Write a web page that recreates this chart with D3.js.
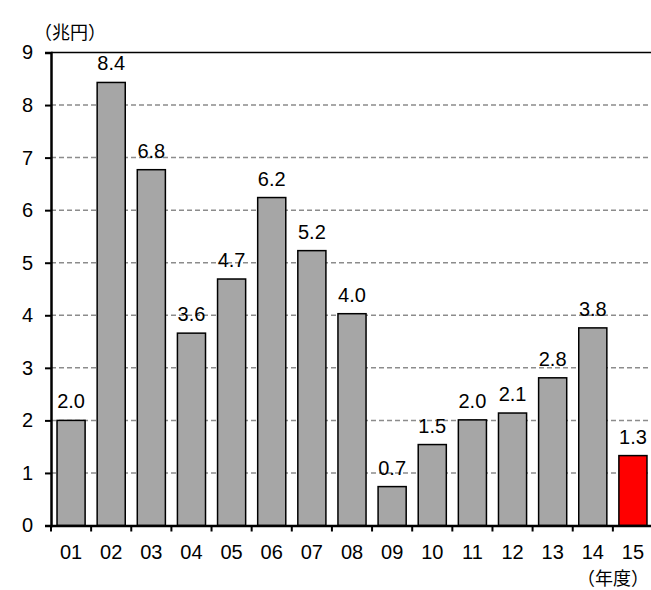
<!DOCTYPE html>
<html><head><meta charset="utf-8">
<script src="https://cdn.jsdelivr.net/npm/d3@7"></script>
<style>body{margin:0;background:#fff}svg{display:block;font-family:"Liberation Sans",Arial,sans-serif}</style>
</head><body>
<script>
const categories = ["01","02","03","04","05","06","07","08","09","10","11","12","13","14","15"];
const values = [2.0, 8.43, 6.77, 3.66, 4.69, 6.24, 5.23, 4.03, 0.74, 1.54, 2.01, 2.14, 2.81, 3.76, 1.33];
const labels = ["2.0","8.4","6.8","3.6","4.7","6.2","5.2","4.0","0.7","1.5","2.0","2.1","2.8","3.8","1.3"];
const yTicks = [0,1,2,3,4,5,6,7,8,9];
const highlight = "15";

const W = 651, H = 590;
const m = {left:51, top:52.5, right:-2, bottom:64.5};
const svg = d3.select("body").append("svg").attr("width",W).attr("height",H);
const x = d3.scaleBand().domain(categories).range([m.left, W - m.right]).paddingInner(0.3).paddingOuter(0.15);
const y = d3.scaleLinear().domain([0,9]).range([H - m.bottom, m.top]);
const FONT = "'Liberation Sans',Arial,sans-serif";
const CJK = "'Noto Sans CJK JP',sans-serif";

// grid
svg.append("g").selectAll("line").data(yTicks.filter(d=>d>0 && d<9)).join("line")
  .attr("x1", m.left).attr("x2", W).attr("y1", d=>y(d)).attr("y2", d=>y(d))
  .attr("stroke","#8c8c8c").attr("stroke-width",1.5).attr("stroke-dasharray","5,3");
// top border
svg.append("line").attr("x1", m.left).attr("x2", W).attr("y1", y(9)).attr("y2", y(9))
  .attr("stroke","#000").attr("stroke-width",1.5);

// bars
svg.append("g").selectAll("rect").data(categories).join("rect")
  .attr("x", d=>x(d)).attr("width", x.bandwidth())
  .attr("y", (d,i)=>y(values[i])).attr("height", (d,i)=>y(0)-y(values[i]))
  .attr("fill", d=> d===highlight ? "#ff0000" : "#a6a6a6")
  .attr("stroke","#000").attr("stroke-width",1.5);

// value labels
svg.append("g").selectAll("text").data(categories).join("text")
  .attr("x", d=>x(d)+x.bandwidth()/2).attr("y", (d,i)=>y(values[i]) - 12)
  .attr("text-anchor","middle").attr("font-size",20).text((d,i)=>labels[i]);

// y axis
const ya = svg.append("g").attr("transform",`translate(${m.left},0)`)
  .call(d3.axisLeft(y).tickValues(yTicks).tickSize(6).tickPadding(12).tickFormat(d3.format("d")));
ya.select(".domain").attr("stroke","#000").attr("stroke-width",2.5);
ya.selectAll(".tick line").attr("stroke","#000").attr("stroke-width",2);
ya.selectAll("text").attr("font-size",20).attr("fill","#000").style("font-family",FONT);

// x axis
const xa = svg.append("g").attr("transform",`translate(0,${y(0)})`)
  .call(d3.axisBottom(x).tickSize(0));
xa.select(".domain").attr("stroke","#000").attr("stroke-width",2.5);
xa.selectAll("text").attr("y",33.5).attr("dy",null).attr("font-size",20).attr("fill","#000").style("font-family",FONT);
// tick marks at band boundaries
const bounds = categories.map((d,i)=> m.left + i*(W - m.right - m.left)/categories.length);
svg.append("g").selectAll("line").data(bounds).join("line")
  .attr("x1", d=>d).attr("x2", d=>d).attr("y1", y(0)).attr("y2", y(0)+6)
  .attr("stroke","#000").attr("stroke-width",2);

// unit labels
svg.append("text").attr("x", 34).attr("y", 39).attr("font-size",18)
  .style("font-family",CJK).text("（兆円）");
svg.append("text").attr("x", 649).attr("y", 585).attr("text-anchor","end").attr("font-size",18)
  .style("font-family",CJK).text("（年度）");
</script>
</body></html>
